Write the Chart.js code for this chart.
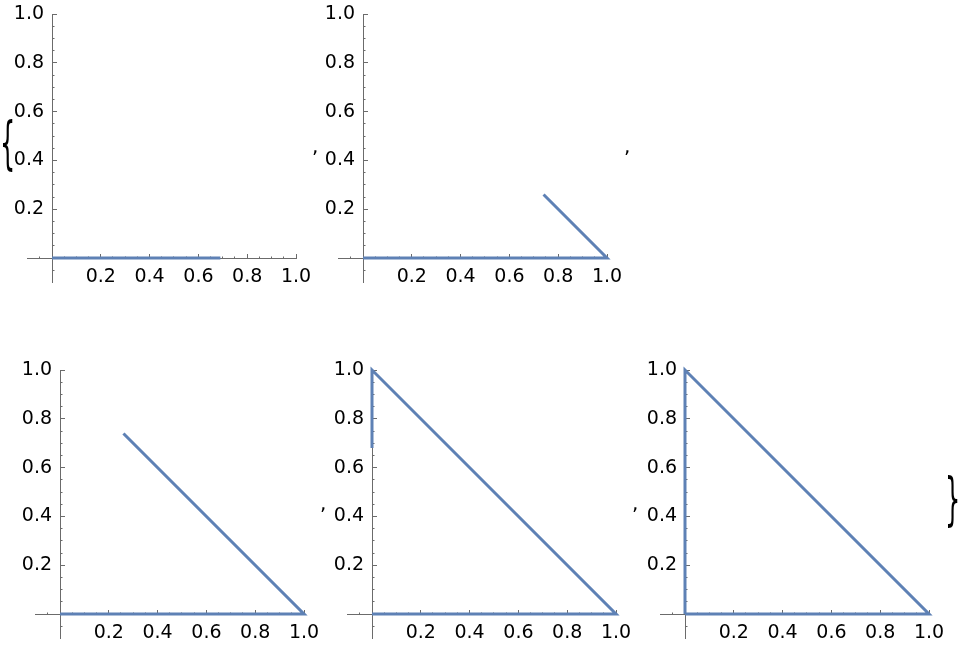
<!DOCTYPE html>
<html>
<head>
<meta charset="utf-8">
<script src="https://cdn.jsdelivr.net/npm/chart.js@4.4.1/dist/chart.umd.min.js"></script>
<style>
  html, body { margin: 0; padding: 0; background: #fff; }
  body { width: 960px; height: 646px; position: relative; overflow: hidden; font-family: "DejaVu Sans", sans-serif; }
  .panel { position: absolute; }
  .sym { position: absolute; color: #000; font-family: "DejaVu Sans", sans-serif; line-height: 1; white-space: nowrap; }
</style>
</head>
<body>
<script>
// ---- Data: successive frames of a triangle outline being drawn ----
const frameNames = ["frame 1", "frame 2", "frame 3", "frame 4", "frame 5"];
const frame1X = [0, 0.69];
const frame1Y = [0, 0];
const frame2X = [0, 1, 0.74];
const frame2Y = [0, 0, 0.26];
const frame3X = [0, 1, 0.26];
const frame3Y = [0, 0, 0.74];
const frame4X = [0, 1, 0, 0];
const frame4Y = [0, 0, 1, 0.68];
const frame5X = [0, 1, 0, 0];
const frame5Y = [0, 0, 1, 0];
const majorTicks = [0.2, 0.4, 0.6, 0.8, 1.0];
const minorTicks = [-0.05, 0.05, 0.1, 0.15, 0.25, 0.3, 0.35, 0.45, 0.5, 0.55, 0.65, 0.7, 0.75, 0.85, 0.9, 0.95];
const tickLabels = ["0.2", "0.4", "0.6", "0.8", "1.0"];

const frames = [
  { xs: frame1X, ys: frame1Y },
  { xs: frame2X, ys: frame2Y },
  { xs: frame3X, ys: frame3Y },
  { xs: frame4X, ys: frame4Y },
  { xs: frame5X, ys: frame5Y }
];

// ---- Layout (pixels) ----
const UNIT = 244;
const CW = 350, CH = 330;
const OX = 52, OY = 258;               // origin position inside each canvas
const origins = [[52, 258], [363, 258], [60, 614], [372, 614], [685, 614]];

const AXIS_COLOR = '#6b6b6b';
const LINE_COLOR = '#5E81B5';
const FONT = { family: 'DejaVu Sans', size: 19 };

function labelFor(v, isY) {
  const i = majorTicks.findIndex(t => Math.abs(t - v) < 1e-9);
  if (i < 0) return '';
  return isY ? tickLabels[i] + ' \u200A' : tickLabels[i];
}

function axisOpts(kind, crossAxis, tickVals, showLabels, tickLen) {
  return {
    type: 'linear',
    min: -0.1,
    max: 1.0,
    position: { [crossAxis]: 0 },
    afterBuildTicks: s => { s.ticks = tickVals.map(v => ({ value: v })); },
    border: { display: true, color: AXIS_COLOR, width: 1 },
    grid: { display: true, drawOnChartArea: false, drawTicks: true, tickLength: -tickLen, tickColor: AXIS_COLOR, tickWidth: 1 },
    ticks: {
      display: showLabels,
      autoSkip: false,
      maxRotation: 0,
      minRotation: 0,
      color: '#000',
      font: FONT,
      padding: kind === 'x' ? 13 : 0,
      callback: v => labelFor(v, kind === 'y')
    }
  };
}

frames.forEach((f, i) => {
  const [ox, oy] = origins[i];
  const div = document.createElement('div');
  div.className = 'panel';
  div.style.left = (ox - OX) + 'px';
  div.style.top = (oy - OY) + 'px';
  div.style.width = CW + 'px';
  div.style.height = CH + 'px';
  const cv = document.createElement('canvas');
  cv.width = CW; cv.height = CH;
  cv.style.width = CW + 'px'; cv.style.height = CH + 'px';
  div.appendChild(cv);
  document.body.appendChild(div);

  const tgt = {
    left: OX - 0.1 * UNIT,
    top: OY - UNIT,
    right: OX + UNIT,
    bottom: OY + 0.1 * UNIT
  };
  const pad = { left: tgt.left, top: tgt.top, right: CW - tgt.right, bottom: CH - tgt.bottom };

  const chart = new Chart(cv, {
    type: 'scatter',
    data: {
      datasets: [{
        label: frameNames[i],
        data: f.xs.map((x, k) => ({ x: x, y: f.ys[k] })),
        showLine: true,
        borderColor: LINE_COLOR,
        backgroundColor: LINE_COLOR,
        borderWidth: 3,
        pointRadius: 0,
        pointHoverRadius: 0,
        fill: false,
        tension: 0,
        clip: false,
        borderCapStyle: 'butt',
        borderJoinStyle: 'miter'
      }]
    },
    options: {
      responsive: false,
      animation: false,
      devicePixelRatio: 1,
      layout: { padding: pad },
      plugins: { legend: { display: false }, tooltip: { enabled: false }, title: { display: false } },
      events: [],
      scales: {
        x: axisOpts('x', 'y', majorTicks, true, 5),
        y: axisOpts('y', 'x', majorTicks, true, 5),
        x2: Object.assign(axisOpts('x', 'y', minorTicks, false, 2.5), { axis: 'x' }),
        y2: Object.assign(axisOpts('y', 'x', minorTicks, false, 2.5), { axis: 'y' })
      }
    }
  });

  // nudge the layout padding so the plot area lands on the target rectangle
  for (let it = 0; it < 4; it++) {
    const ca = chart.chartArea;
    const p = chart.options.layout.padding;
    p.left += tgt.left - ca.left;
    p.top += tgt.top - ca.top;
    p.right += ca.right - tgt.right;
    p.bottom += ca.bottom - tgt.bottom;
    chart.update('none');
  }
});

// ---- List punctuation around the plots ----
function addSym(txt, x, y, size, sy) {
  const d = document.createElement('div');
  d.className = 'sym';
  d.textContent = txt;
  d.style.left = x + 'px';
  d.style.top = y + 'px';
  d.style.fontSize = size + 'px';
  if (sy) { d.style.transform = 'scaleY(' + sy + ')'; d.style.transformOrigin = '0 0'; }
  document.body.appendChild(d);
}
addSym('{', 0, 115, 24, 2.34);
addSym(',', 312, 136, 20);
addSym(',', 624, 136, 20);
addSym(',', 320, 493, 20);
addSym(',', 632, 493, 20);
addSym('}', 945, 471, 24, 2.34);
</script>
</body>
</html>
